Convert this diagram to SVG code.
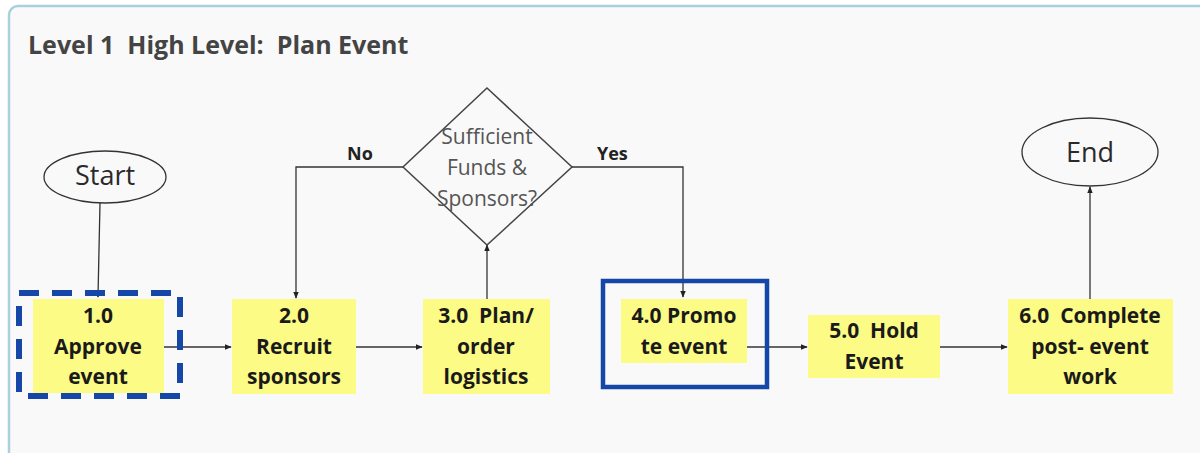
<svg xmlns="http://www.w3.org/2000/svg" width="1200" height="453" viewBox="0 0 1200 453">
  <style>
    .panel { fill: #f9f9f9; stroke: #a9d1dc; stroke-width: 2.5; }
    .title { font-family: "Open Sans", Lato, sans-serif; font-weight: bold; font-size: 25px; fill: #444444; }
    .task { fill: #fbfb86; stroke: none; }
    .label { font-family: "Open Sans", Lato, sans-serif; font-weight: bold; font-size: 21px; fill: #1a1a1a; text-anchor: middle; }
    .term { fill: none; stroke: #333333; stroke-width: 1.3; }
    .termtext { font-family: "Open Sans", Lato, sans-serif; font-size: 27px; fill: #2a2a2a; text-anchor: middle; }
    .decision { fill: none; stroke: #444444; stroke-width: 1.5; }
    .dtext { font-family: "Open Sans", Lato, sans-serif; font-size: 21px; fill: #555555; text-anchor: middle; }
    .edge { fill: none; stroke: #333333; stroke-width: 1.3; }
    .edgetext { font-family: "Open Sans", Lato, sans-serif; font-weight: bold; font-size: 18px; fill: #222222; }
    .focus-dash { fill: none; stroke: #1547a8; stroke-width: 6; stroke-dasharray: 20 13; }
    .focus { fill: none; stroke: #1547a8; stroke-width: 4.5; }
  </style>
  <defs>
    <marker id="arrow" viewBox="0 0 10 10" refX="9" refY="5" markerWidth="7" markerHeight="7" markerUnits="userSpaceOnUse" orient="auto">
      <path d="M0,1 L10,5 L0,9 z" fill="#222222"/>
    </marker>
  </defs>

  <rect width="1200" height="453" fill="#ffffff"/>
  <rect class="panel" x="9" y="6" width="1260" height="470" rx="9"/>
  <text class="title" x="28" y="54" xml:space="preserve">Level 1  High Level:  Plan Event</text>

  <!-- connectors -->
  <g id="connectors">
    <path class="edge" d="M100,203 L98,297" marker-end="url(#arrow)"/>
    <path class="edge" d="M164,347 L231,347" marker-end="url(#arrow)"/>
    <path class="edge" d="M356,347 L422,347" marker-end="url(#arrow)"/>
    <path class="edge" d="M487,299 L487,245" marker-end="url(#arrow)"/>
    <path class="edge" d="M403,167 L296,167 L296,298" marker-end="url(#arrow)"/>
    <path class="edge" d="M572,167 L683,167 L683,297" marker-end="url(#arrow)"/>
    <path class="edge" d="M747,347 L807,347" marker-end="url(#arrow)"/>
    <path class="edge" d="M940,347 L1007,347" marker-end="url(#arrow)"/>
    <path class="edge" d="M1090,299 L1090,187" marker-end="url(#arrow)"/>
    <text class="edgetext" x="347" y="160">No</text>
    <text class="edgetext" x="597" y="160">Yes</text>
  </g>

  <g id="start">
    <ellipse class="term" cx="105" cy="177" rx="61" ry="26"/>
    <text class="termtext" x="105" y="185">Start</text>
  </g>

  <g id="task-1">
    <rect class="task" x="33" y="299" width="131" height="94"/>
    <rect class="focus-dash" x="19" y="293" width="161" height="103"/>
    <text class="label" x="98" y="323">1.0</text>
    <text class="label" x="98" y="354">Approve</text>
    <text class="label" x="98" y="384">event</text>
  </g>

  <g id="task-2">
    <rect class="task" x="232" y="299" width="124" height="95"/>
    <text class="label" x="294" y="323">2.0</text>
    <text class="label" x="294" y="354">Recruit</text>
    <text class="label" x="294" y="384">sponsors</text>
  </g>

  <g id="decision">
    <polygon class="decision" points="487,88 572,167 487,245 403,167"/>
    <text class="dtext" x="487" y="144">Sufficient</text>
    <text class="dtext" x="487" y="175">Funds &amp;</text>
    <text class="dtext" x="487" y="206">Sponsors?</text>
  </g>

  <g id="task-3">
    <rect class="task" x="423" y="299" width="127" height="95"/>
    <text class="label" x="486" y="323" xml:space="preserve">3.0  Plan/</text>
    <text class="label" x="486" y="354">order</text>
    <text class="label" x="486" y="384">logistics</text>
  </g>

  <g id="task-4">
    <rect class="focus" x="603" y="281" width="164" height="106"/>
    <rect class="task" x="621" y="299" width="126" height="64"/>
    <text class="label" x="684" y="323">4.0 Promo</text>
    <text class="label" x="684" y="354">te event</text>
  </g>

  <g id="task-5">
    <rect class="task" x="808" y="315" width="132" height="63"/>
    <text class="label" x="874" y="338" xml:space="preserve">5.0  Hold</text>
    <text class="label" x="874" y="369">Event</text>
  </g>

  <g id="task-6">
    <rect class="task" x="1008" y="299" width="165" height="95"/>
    <text class="label" x="1090" y="323" xml:space="preserve">6.0  Complete</text>
    <text class="label" x="1090" y="354">post- event</text>
    <text class="label" x="1090" y="384">work</text>
  </g>

  <g id="end">
    <ellipse class="term" cx="1090" cy="152" rx="68" ry="34"/>
    <text class="termtext" x="1090" y="162">End</text>
  </g>
</svg>
